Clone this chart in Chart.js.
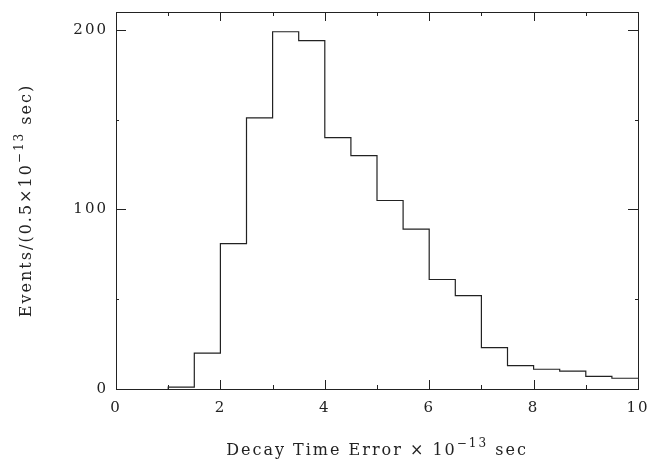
<!DOCTYPE html>
<html>
<head>
<meta charset="utf-8">
<script src="https://cdn.jsdelivr.net/npm/chart.js@4"></script>
<style>
  html, body { margin: 0; padding: 0; background: #fff; }
  #wrap { width: 655px; height: 459px; }
</style>
</head>
<body>
<div id="wrap"><canvas id="myChart"></canvas></div>
<script>
// histogram bins: lower edge of each 0.5 wide bin, and events in it
const binStarts = [1, 1.5, 2, 2.5, 3, 3.5, 4, 4.5, 5, 5.5, 6, 6.5, 7, 7.5, 8, 8.5, 9, 9.5];
const counts = [1, 20, 81, 151, 199, 194, 140, 130, 105, 89, 61, 52, 23, 13, 11, 10, 7, 6];
const binWidth = 0.5;

const xMajor = [0, 2, 4, 6, 8, 10];
const xMinor = [1, 3, 5, 7, 9];
const yMajor = [0, 100, 200];
const yMinor = [50, 150];

const fontFam = "'DejaVu Serif', serif";
const ink = '#222';

// step outline points (horizontal at previous value, then vertical)
let steps = [{ x: binStarts[0], y: 0 }];
for (let i = 0; i < binStarts.length; i++) {
    steps.push({ x: binStarts[i], y: counts[i] });
}
steps.push({ x: binStarts[binStarts.length - 1] + binWidth, y: counts[counts.length - 1] });

function spacing(chart) {
    chart.ctx.letterSpacing = '2px';
}

// frame, inward ticks and axis titles
const framePlugin = {
    id: 'frame',
    beforeUpdate: spacing,
    beforeDraw: spacing,
    afterDraw(chart) {
        const ctx = chart.ctx;
        const a = chart.chartArea;
        const xs = chart.scales.x;
        const ys = chart.scales.y;
        ctx.save();
        ctx.strokeStyle = ink;
        ctx.lineWidth = 1;
        ctx.strokeRect(a.left + 0.5, a.top + 0.5, a.right - a.left, a.bottom - a.top);

        ctx.beginPath();
        xMajor.forEach(v => {
            const px = Math.round(xs.getPixelForValue(v)) + 0.5;
            ctx.moveTo(px, a.bottom); ctx.lineTo(px, a.bottom - 9);
            ctx.moveTo(px, a.top); ctx.lineTo(px, a.top + 9);
        });
        xMinor.forEach(v => {
            const px = Math.round(xs.getPixelForValue(v)) + 0.5;
            ctx.moveTo(px, a.bottom); ctx.lineTo(px, a.bottom - 4);
            ctx.moveTo(px, a.top); ctx.lineTo(px, a.top + 4);
        });
        yMajor.forEach(v => {
            const py = Math.round(ys.getPixelForValue(v)) + 0.5;
            ctx.moveTo(a.left, py); ctx.lineTo(a.left + 10, py);
            ctx.moveTo(a.right, py); ctx.lineTo(a.right - 10, py);
        });
        yMinor.forEach(v => {
            const py = Math.round(ys.getPixelForValue(v)) + 0.5;
            ctx.moveTo(a.left, py); ctx.lineTo(a.left + 3, py);
            ctx.moveTo(a.right, py); ctx.lineTo(a.right - 3, py);
        });
        ctx.stroke();

        // titles with superscript
        ctx.fillStyle = ink;
        ctx.letterSpacing = '2px';
        ctx.textBaseline = 'alphabetic';
        function supText(parts, cx, cy) {
            let w = 0;
            parts.forEach(p => {
                ctx.font = (p.sup ? '12px ' : '16px ') + fontFam;
                p.w = ctx.measureText(p.t).width;
                w += p.w;
            });
            let x = cx - w / 2;
            parts.forEach(p => {
                ctx.font = (p.sup ? '12px ' : '16px ') + fontFam;
                ctx.textAlign = 'left';
                ctx.fillText(p.t, x, cy + (p.sup ? -8 : 0));
                x += p.w;
            });
        }
        supText([{ t: 'Decay Time Error × 10' }, { t: '−13', sup: true }, { t: ' sec' }],
            (a.left + a.right) / 2, 455);

        ctx.save();
        ctx.translate(31, (a.top + a.bottom) / 2);
        ctx.rotate(-Math.PI / 2);
        supText([{ t: 'Events/(0.5×10' }, { t: '−13', sup: true }, { t: ' sec)' }], 0, 0);
        ctx.restore();
        ctx.restore();
    }
};

const ctx = document.getElementById('myChart');
const myChart = new Chart(ctx, {
    type: 'line',
    data: {
        datasets: [{
            label: 'Events',
            data: steps,
            stepped: 'before',
            borderColor: ink,
            borderWidth: 1.2,
            pointRadius: 0,
            fill: false
        }]
    },
    options: {
        responsive: true,
        maintainAspectRatio: false,
        animation: false,
        layout: { padding: { top: 12, right: 17, left: 0, bottom: 0 } },
        plugins: {
            legend: { display: false },
            tooltip: { enabled: false }
        },
        scales: {
            x: {
                type: 'linear',
                min: 0,
                max: 10,
                afterBuildTicks: s => { s.ticks = xMajor.map(v => ({ value: v })); },
                afterFit: s => { s.height = 70; s.paddingLeft = 0; s.paddingRight = 0; },
                grid: { display: false, drawTicks: false },
                border: { display: false },
                ticks: {
                    color: ink,
                    padding: 10,
                    maxRotation: 0,
                    font: { family: fontFam, size: 15 }
                }
            },
            y: {
                type: 'linear',
                min: 0,
                max: 210,
                afterBuildTicks: s => { s.ticks = yMajor.map(v => ({ value: v })); },
                afterFit: s => { s.width = 116; s.paddingTop = 0; s.paddingBottom = 0; },
                grid: { display: false, drawTicks: false },
                border: { display: false },
                ticks: {
                    color: ink,
                    padding: 8,
                    font: { family: fontFam, size: 15 }
                }
            }
        }
    },
    plugins: [framePlugin]
});
</script>
</body>
</html>
